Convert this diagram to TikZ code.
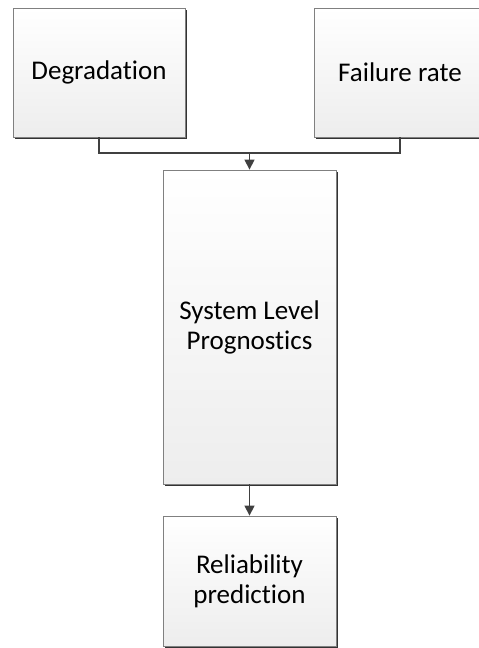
\documentclass[tikz,border=0pt]{standalone}
\usepackage{fontspec}
\setmainfont{Carlito}[Ligatures=NoCommon]
\usetikzlibrary{arrows.meta,shadows}
\begin{document}
\begin{tikzpicture}[x=1pt,y=-1pt,
  block/.style={draw=black!50, line width=0.8pt, inner sep=0pt,
    top color=white, bottom color=black!7,
    drop shadow={shadow xshift=2.4pt, shadow yshift=-2.4pt, fill=black!80, opacity=1},
    align=center, font=\fontsize{27}{30}\selectfont, text=black},
  link/.style={draw=black!75, line width=1.3pt},
  tip/.style={-{Triangle[width=10pt,length=10pt]}}]
\clip (0,0) rectangle (479,648);
% input blocks
\node[block, minimum width=172pt, minimum height=129pt] (deg) at (99,72.5) {Degradation};
\node[block, minimum width=172pt, minimum height=129pt] (fail) at (400,72.5) {Failure rate};
% central block
\node[block, minimum width=173pt, minimum height=314pt] (sys) at (249.5,327) {System Level\\Prognostics};
% output block
\node[block, minimum width=173pt, minimum height=130pt] (rel) at (249.5,581) {Reliability\\prediction};
% connectors
\coordinate (join) at (249.5,153);
\draw[link] (deg.south) |- (join) -| (fail.south);
\draw[link, tip] (join) -- (sys.north);
\draw[link, tip] (sys.south) -- (rel.north);
\end{tikzpicture}
\end{document}
